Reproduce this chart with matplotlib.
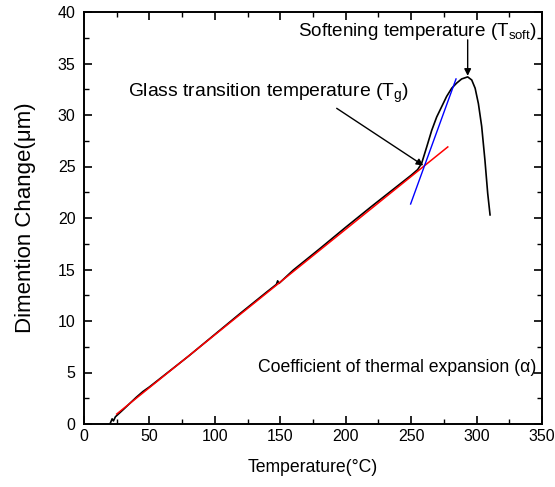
import matplotlib
matplotlib.use("Agg")
import matplotlib.pyplot as plt
from matplotlib.ticker import MultipleLocator

plt.rcParams['font.family'] = ['Liberation Sans', 'DejaVu Sans']
plt.rcParams['mathtext.fontset'] = 'custom'
plt.rcParams['mathtext.rm'] = 'Liberation Sans'
plt.rcParams['mathtext.it'] = 'Liberation Sans'

# Dilatometer trace: temperature (°C) vs dimension change (µm)
temp = [20, 21.5, 22.5, 24, 30, 40, 45, 50, 60, 80, 100, 120, 140, 147, 148, 149,
        160, 180, 200, 220, 240, 250, 255, 258.0, 261.9, 265.7, 269.5, 273.3,
        277.1, 281.0, 284.8, 288.6, 293.2, 296.3, 298.9, 301.4, 303.9, 306.4,
        308.5, 310.3]
dim = [0.05, 0.5, 0.3, 0.7, 1.4, 2.6, 3.15, 3.6, 4.6, 6.6, 8.7, 10.8, 12.85, 13.55,
       13.9, 13.65, 14.95, 17.0, 19.1, 21.15, 23.15, 24.15, 24.7, 25.3, 26.9, 28.5,
       29.8, 30.8, 31.8, 32.6, 33.1, 33.5, 33.7, 33.4, 32.6, 31.1, 28.9, 25.6,
       22.4, 20.3]

# Tangent below Tg (thermal expansion fit) and above Tg
fit_low_x = [25, 278]
fit_low_y = [0.97, 26.9]
fit_high_x = [249.6, 284.3]
fit_high_y = [21.36, 33.5]

x_ticks = [0, 50, 100, 150, 200, 250, 300, 350]
y_ticks = [0, 5, 10, 15, 20, 25, 30, 35, 40]

fig = plt.figure(figsize=(5.55, 4.87), dpi=100)
ax = fig.add_axes([84/555, 1-424/487, 458/555, 412/487])

ax.plot(temp, dim, color='black', lw=1.2, zorder=3)
ax.plot(fit_low_x, fit_low_y, color='red', lw=1.1, zorder=4)
ax.plot(fit_high_x, fit_high_y, color='blue', lw=1.0, zorder=4)

ax.set_xlim(0, 350)
ax.set_ylim(0, 40)
ax.set_xticks(x_ticks)
ax.set_yticks(y_ticks)
ax.xaxis.set_minor_locator(MultipleLocator(25))
ax.yaxis.set_minor_locator(MultipleLocator(2.5))
ax.tick_params(which='both', direction='in', top=True, right=True, labelsize=11.5)
ax.tick_params(axis='y', which='major', pad=6)
ax.tick_params(which='major', length=6, width=1.2)
ax.tick_params(which='minor', length=3.5, width=1.0)
for s in ax.spines.values():
    s.set_linewidth(1.4)

ax.set_xlabel('Temperature(°C)', fontsize=12.7, labelpad=11)
ax.set_ylabel('Dimention Change(μm)', fontsize=16, labelpad=16)

arrow = dict(arrowstyle='-|>', color='black', lw=1.0, mutation_scale=10,
             shrinkA=0, shrinkB=0)
ax.annotate('', xy=(293.2, 33.8), xytext=(293.2, 37.3), arrowprops=arrow)
ax.annotate('', xy=(259.3, 25.1), xytext=(193.1, 30.65), arrowprops=arrow)

ax.text(163.5, 38.1, r'Softening temperature (T$_{\mathregular{soft}}$)',
        fontsize=13.6, va='center', ha='left')
ax.text(33.6, 32.1, r'Glass transition temperature (T$_{\mathregular{g}}$)',
        fontsize=13.9, va='center', ha='left')
ax.text(133, 5.5, 'Coefficient of thermal expansion (α)',
        fontsize=12.7, va='center', ha='left')

fig.savefig('out.png', dpi=100)
